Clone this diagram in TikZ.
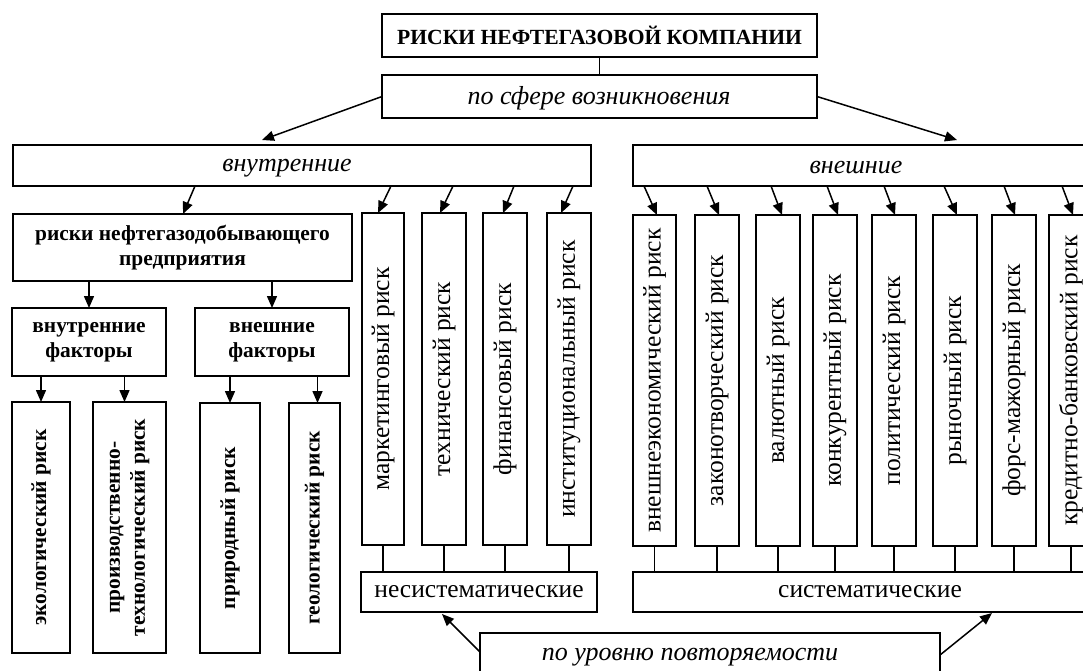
\documentclass[tikz,border=0pt]{standalone}
\usepackage{fontspec}
\setmainfont{Liberation Serif}
\usetikzlibrary{arrows.meta,calc}
\begin{document}
\begin{tikzpicture}[x=1pt,y=-1pt,
 box/.style={draw, line width=1.5pt, inner sep=0pt, outer sep=0pt, anchor=north west},
 arr/.style={line width=1.5pt, -{Triangle[length=12pt,width=10pt]}},
 ln/.style={line width=1.4pt},
 ttl/.style={font=\fontsize{21.6}{24}\selectfont\bfseries},
 it/.style={font=\fontsize{26}{30}\selectfont\itshape},
 rg/.style={font=\fontsize{25.5}{30}\selectfont},
 bd/.style={font=\fontsize{21.4}{25}\selectfont\bfseries, align=center},
 vt/.style={rotate=90, font=\fontsize{25.5}{30}\selectfont, inner sep=0pt},
 vb/.style={rotate=90, font=\fontsize{21.4}{25}\selectfont\bfseries, align=center, inner sep=0pt},
]
\useasboundingbox (0,0) rectangle (1083,670);
\clip (0,0) rectangle (1083,670);

% top
\node[box, ttl, minimum width=435pt, minimum height=43pt] (title) at (382,14) {РИСКИ НЕФТЕГАЗОВОЙ КОМПАНИИ};
\node[box, minimum width=435pt, minimum height=43pt] (sfera) at (382,75) {};
\node[it] (sferaT) at (599,98) {по сфере возникновения};
\draw[ln] (title.south) -- (sfera.north);

\node[box, minimum width=578pt, minimum height=41pt] (vnut) at (13,145) {};
\node[it] (vnutT) at (287,168) {внутренние};
\node[box, minimum width=470pt, minimum height=41pt] (vnesh) at (633,145) {};
\node[it] (vneshT) at (856,168) {внешние};

\draw[arr] (sfera.west) -- ([xshift=249pt,yshift=5pt]vnut.north west);
\draw[arr] (sfera.east) -- ([xshift=324pt,yshift=5pt]vnesh.north west);

% left block
\node[box, bd, minimum width=339pt, minimum height=67pt] (riski) at (13,214) {риски нефтегазодобывающего\\предприятия};
\node[box, bd, minimum width=154pt, minimum height=68pt] (vnf) at (12,308) {внутренние\\факторы};
\node[box, bd, minimum width=154pt, minimum height=68pt] (vext) at (195,308) {внешние\\факторы};

\node[box, minimum width=58pt, minimum height=251pt] (eco) at (12,402) {};
\node[box, minimum width=73pt, minimum height=251pt] (prod) at (93,402) {};
\node[box, minimum width=60pt, minimum height=250pt] (pri) at (200,403) {};
\node[box, minimum width=51pt, minimum height=250pt] (geo) at (289,403) {};
\node[vb] (ecoT) at (eco.center) {экологический риск};
\node[vb] (prodT) at (prod.center) {производственно-\\технологический риск};
\node[vb] (priT) at (pri.center) {природный риск};
\node[vb] (geoT) at (geo.center) {геологический риск};

\draw[arr] ([xshift=182pt]vnut.south west) -- ([xshift=170pt]riski.north west);
\draw[arr] (vnf.north |- riski.south) -- (vnf.north);
\draw[arr] (vext.north |- riski.south) -- (vext.north);
\draw[arr] (eco.north |- vnf.south) -- (eco.north);
\draw[arr] ([xshift=-5pt]prod.north |- vnf.south) -- ([xshift=-5pt]prod.north);
\draw[arr] (pri.north |- vext.south) -- (pri.north);
\draw[arr] ([xshift=3pt]geo.north |- vext.south) -- ([xshift=3pt]geo.north);

% internal vertical boxes
\node[box, minimum width=42pt, minimum height=332pt] (mk) at (362,213) {};
\node[box, minimum width=44pt, minimum height=332pt] (tech) at (422,213) {};
\node[box, minimum width=44pt, minimum height=332pt] (fin) at (483,213) {};
\node[box, minimum width=44pt, minimum height=332pt] (inst) at (547,213) {};
\node[vt] (mkT) at (mk.center) {маркетинговый риск};
\node[vt] (techT) at (tech.center) {технический риск};
\node[vt] (finT) at (fin.center) {финансовый риск};
\node[vt] (instT) at (inst.center) {институциональный риск};

\draw[arr] ([xshift=378pt]vnut.south west) -- ([xshift=16pt]mk.north west);
\draw[arr] ([xshift=440pt]vnut.south west) -- ([xshift=18pt]tech.north west);
\draw[arr] ([xshift=501pt]vnut.south west) -- ([xshift=20pt]fin.north west);
\draw[arr] ([xshift=560pt]vnut.south west) -- ([xshift=14pt]inst.north west);

% external vertical boxes
\node[box, minimum width=43pt, minimum height=331pt] (e1) at (633,215) {};
\node[box, minimum width=44pt, minimum height=331pt] (e2) at (695,215) {};
\node[box, minimum width=44pt, minimum height=331pt] (e3) at (756,215) {};
\node[box, minimum width=44pt, minimum height=331pt] (e4) at (813,215) {};
\node[box, minimum width=44pt, minimum height=331pt] (e5) at (872,215) {};
\node[box, minimum width=44pt, minimum height=331pt] (e6) at (933,215) {};
\node[box, minimum width=44pt, minimum height=331pt] (e7) at (992,215) {};
\node[box, minimum width=44pt, minimum height=331pt] (e8) at (1049,215) {};
\node[vt] (e1T) at (e1.center) {внешнеэкономический риск};
\node[vt] (e2T) at (e2.center) {законотворческий риск};
\node[vt] (e3T) at (e3.center) {валютный риск};
\node[vt] (e4T) at (e4.center) {конкурентный риск};
\node[vt] (e5T) at (e5.center) {политический риск};
\node[vt] (e6T) at (e6.center) {рыночный риск};
\node[vt] (e7T) at (e7.center) {форс-мажорный риск};
\node[vt] (e8T) at (e8.center) {кредитно-банковский риск};

\draw[arr] ([xshift=11pt]vnesh.south west) -- ([xshift=24pt]e1.north west);
\draw[arr] ([xshift=74pt]vnesh.south west) -- ([xshift=24pt]e2.north west);
\draw[arr] ([xshift=138pt]vnesh.south west) -- ([xshift=26pt]e3.north west);
\draw[arr] ([xshift=194pt]vnesh.south west) -- ([xshift=25pt]e4.north west);
\draw[arr] ([xshift=251pt]vnesh.south west) -- ([xshift=23pt]e5.north west);
\draw[arr] ([xshift=311pt]vnesh.south west) -- ([xshift=24pt]e6.north west);
\draw[arr] ([xshift=371pt]vnesh.south west) -- ([xshift=23pt]e7.north west);
\draw[arr] ([xshift=429pt]vnesh.south west) -- ([xshift=24pt]e8.north west);

% bottom
\node[box, rg, minimum width=236pt, minimum height=40pt] (nesys) at (361,572) {несистематические};
\node[box, rg, minimum width=474pt, minimum height=40pt] (sys) at (633,572) {систематические};
\foreach \b in {mk,tech,fin,inst}{\draw[ln] (\b.south) -- (\b.south |- nesys.north);}
\foreach \b in {e1,e2,e3,e4,e5,e6,e7,e8}{\draw[ln] (\b.south) -- (\b.south |- sys.north);}

\node[box, minimum width=460pt, minimum height=60pt] (povt) at (480,633) {};
\node[it] (povtT) at (690,657) {по уровню повторяемости};
\draw[arr] ([yshift=-19pt]povt.north west) -- ([xshift=81pt,yshift=-2pt]nesys.south west);
\draw[arr] ([yshift=-22pt]povt.north east) -- ([xshift=359pt,yshift=-1pt]sys.south west);
\end{tikzpicture}
\end{document}
